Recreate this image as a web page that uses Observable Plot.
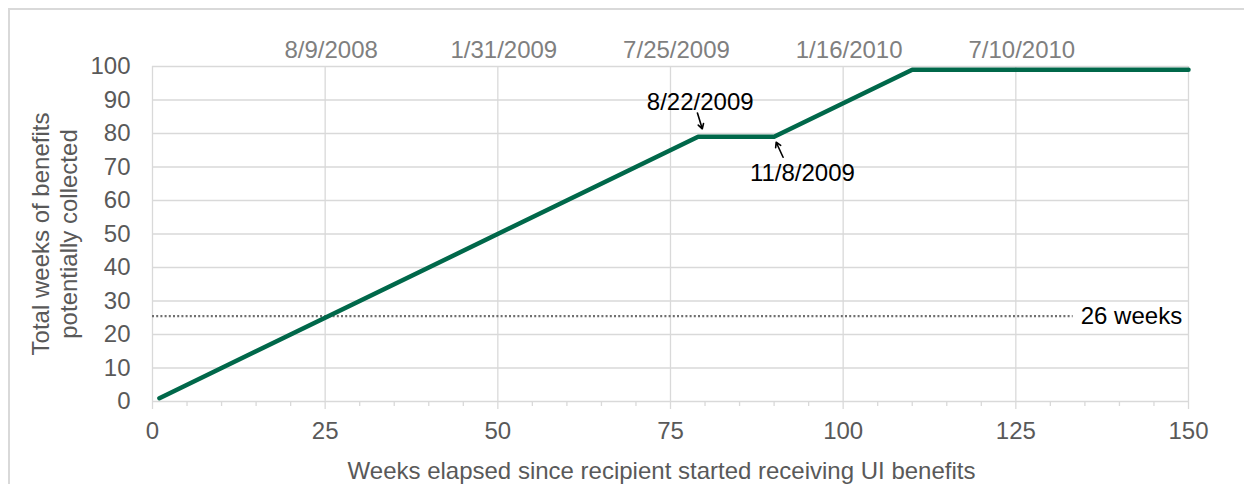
<!DOCTYPE html>
<html><head><meta charset="utf-8">
<script src="https://cdn.jsdelivr.net/npm/d3@7"></script>
<script src="https://cdn.jsdelivr.net/npm/@observablehq/plot@0.6"></script>
<style>
html,body{margin:0;padding:0;background:#fff;overflow:hidden;width:1244px;height:484px;}
#chart{position:absolute;left:0;top:0}
#frame{position:absolute;left:8px;top:8px;width:1400px;height:700px;border:2px solid #d9d9d9;box-sizing:border-box;pointer-events:none}
</style></head><body>
<div id="chart"></div><div id="frame"></div>
<script>
// ---- data ----
const weeks = [1, 79, 90, 110, 150];
const totalWeeks = [1, 79, 79, 99, 99];
const xTicks = [0, 25, 50, 75, 100, 125, 150];
const minorTicks = [5, 10, 15, 20, 30, 35, 40, 45, 55, 60, 65, 70, 80, 85, 90, 95, 105, 110, 115, 120, 130, 135, 140, 145];
const yTicks = [0, 10, 20, 30, 40, 50, 60, 70, 80, 90, 100];
const dateTicks = [25, 50, 75, 100, 125];
const dateLabels = ["8/9/2008", "1/31/2009", "7/25/2009", "1/16/2010", "7/10/2010"];
const threshold = [{y: 25.5, x1: 0, x2: 133.3}];
const thresholdLabel = [{label: "26 weeks", x: 134.4, y: 25.5}];
const annotations = [
  {label: "8/22/2009", x: 79.3, y: 89.3},
  {label: "11/8/2009", x: 94.1, y: 68.0}
];
const arrows = [
  {x1: 78.9, y1: 86.1, x2: 79.6, y2: 81.4},
  {x1: 91.3, y1: 72.9, x2: 90.3, y2: 77.4}
];
const yTitle = "Total weeks of benefits\npotentially collected";
const xTitle = "Weeks elapsed since recipient started receiving UI benefits";

const series = weeks.map((w, i) => ({w, v: totalWeeks[i]}));
const FS = 24;
const gridColor = "#d9d9d9";
const textColor = "#595959";

const chart = Plot.plot({
  width: 1244,
  height: 484,
  marginTop: 66,
  marginRight: 56,
  marginBottom: 83,
  marginLeft: 152,
  style: {fontFamily: "Arial, 'Liberation Sans', sans-serif", fontSize: FS + "px", background: "none"},
  x: {domain: [0, 150], label: null},
  y: {domain: [0, 100], label: null},
  marks: [
    Plot.gridX({ticks: xTicks, stroke: gridColor, strokeOpacity: 1, strokeWidth: 1.3}),
    Plot.gridY({ticks: yTicks, stroke: gridColor, strokeOpacity: 1, strokeWidth: 1.3}),
    Plot.ruleY(threshold, {y: "y", x1: "x1", x2: "x2", stroke: "#6f6f6f", strokeWidth: 2.2, strokeDasharray: "2,2.2"}),
    Plot.line(series, {x: "w", y: "v", stroke: "#00684a", strokeWidth: 4.5}),
    Plot.axisX({ticks: minorTicks, tickSize: 5, tickFormat: () => "", stroke: gridColor, strokeOpacity: 1, strokeWidth: 1.3, label: null}),
    Plot.axisX({ticks: xTicks, tickSize: 8, tickPadding: 12, stroke: gridColor, strokeOpacity: 1, strokeWidth: 1.3, fill: textColor, fontSize: FS, label: null}),
    Plot.axisX({ticks: dateTicks, anchor: "top", tickSize: 0, tickPadding: 9, dx: 6, tickFormat: d => dateLabels[dateTicks.indexOf(d)], fill: "#7f7f7f", fontSize: FS, label: null}),
    Plot.axisY({ticks: yTicks, tickSize: 0, tickPadding: 22, fill: textColor, fontSize: FS, label: null}),
    Plot.text(thresholdLabel, {x: "x", y: "y", text: "label", textAnchor: "start", lineAnchor: "middle", fill: "#000", fontSize: FS}),
    Plot.text(annotations, {x: "x", y: "y", text: "label", textAnchor: "middle", lineAnchor: "middle", fill: "#000", fontSize: FS}),
    Plot.arrow(arrows, {x1: "x1", y1: "y1", x2: "x2", y2: "y2", stroke: "#000", strokeWidth: 1.6, headLength: 8}),
    Plot.text([yTitle], {frameAnchor: "left", rotate: -90, dx: -124, textAnchor: "middle", lineAnchor: "top", lineHeight: 1.18, fill: textColor, fontSize: FS}),
    Plot.text([xTitle], {frameAnchor: "bottom", dy: 77, dx: -9, textAnchor: "middle", lineAnchor: "bottom", fill: textColor, fontSize: FS})
  ]
});
document.getElementById("chart").appendChild(chart);
</script>
</body></html>
